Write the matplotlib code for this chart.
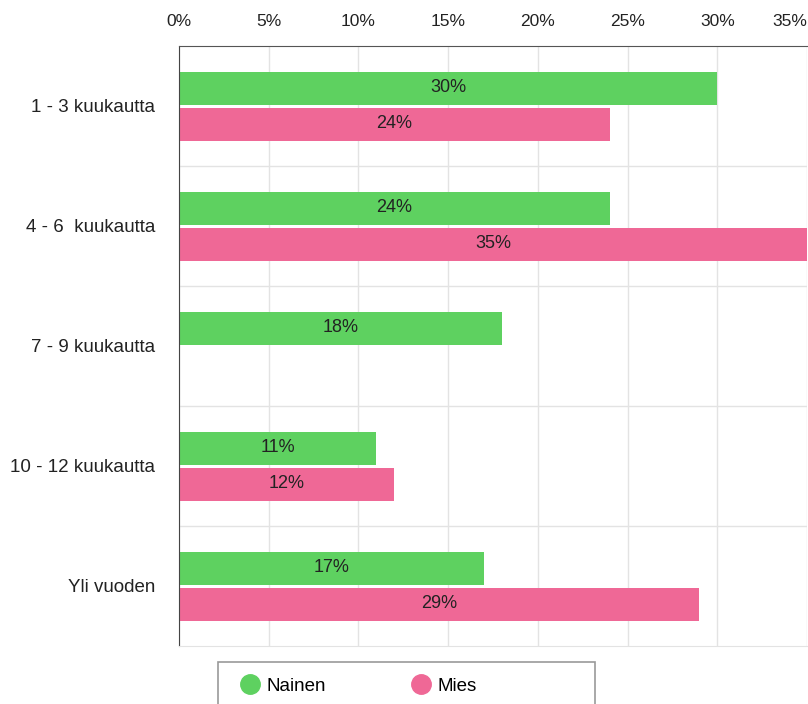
import numpy as np
import matplotlib.pyplot as plt
from matplotlib.patches import Rectangle

plt.rcParams['font.family'] = ['Liberation Sans', 'DejaVu Sans']

# aineisto
kategoriat = ['1 - 3 kuukautta', '4 - 6  kuukautta', '7 - 9 kuukautta',
              '10 - 12 kuukautta', 'Yli vuoden']
nainen = [30, 24, 18, 11, 17]
mies = [24, 35, None, 12, 29]
sarjat = ['Nainen', 'Mies']
varit = ['#5ed160', '#ef6896']

fig = plt.figure(figsize=(8.08, 7.04), dpi=100)
ax = fig.add_axes([179 / 808, 1 - 646 / 704, 628 / 808, 600 / 704])

y = np.arange(len(kategoriat))
korkeus = 0.275
siirto = 0.15

for arvot, nimi, vari, s in zip([nainen, mies], sarjat, varit, [-siirto, siirto]):
    for i, v in enumerate(arvot):
        if v is None:
            continue
        ax.barh(y[i] + s, v, height=korkeus, color=vari, zorder=2)
        ax.text(v / 2, y[i] + s, '{}%'.format(v), ha='center', va='center',
                fontsize=13, color='#222222', zorder=3)

ax.set_xlim(0, 35)
ax.set_ylim(len(kategoriat) - 0.5, -0.5)
ax.xaxis.tick_top()
ax.tick_params(axis='x', length=0, pad=12, colors='#222222')
ax.set_xticks(range(0, 36, 5))
ax.set_xticklabels(['{}%'.format(t) for t in range(0, 36, 5)], fontsize=12.5)
ax.set_yticks(y)
ax.set_yticklabels(kategoriat, fontsize=13.5)
ax.tick_params(axis='y', length=0, pad=17, colors='#222222')
ax.set_yticks(np.arange(0.5, len(kategoriat) - 0.5, 1), minor=True)
ax.tick_params(axis='y', which='minor', length=0)

ax.grid(axis='x', color='#e3e3e3', linewidth=1, zorder=0)
ax.grid(axis='y', which='minor', color='#e3e3e3', linewidth=1, zorder=0)
ax.set_axisbelow(True)

ax.spines['left'].set_color('#444444')
ax.spines['top'].set_color('#555555')
ax.spines['right'].set_visible(False)
ax.spines['bottom'].set_color('#e3e3e3')

# viimeinen prosenttiluku oikeaan reunaan
ax.xaxis.get_major_ticks()[-1].label2.set_horizontalalignment('right')

# selite
fig.patches.append(Rectangle((218 / 808, -0.05), 377 / 808, 0.05 + 1 - 662 / 704,
                             transform=fig.transFigure, fill=False,
                             edgecolor='#999999', linewidth=1.2))
kahvat = [plt.Line2D([], [], marker='o', linestyle='none', markersize=14,
                     color=c) for c in varit]
fig.legend(kahvat, sarjat, loc='center left',
           bbox_to_anchor=(222 / 808, 1 - 686 / 704), ncol=2, frameon=False,
           fontsize=13.5, handletextpad=0.25, columnspacing=4.5, handlelength=1.2)

fig.savefig('out.png', dpi=100)
